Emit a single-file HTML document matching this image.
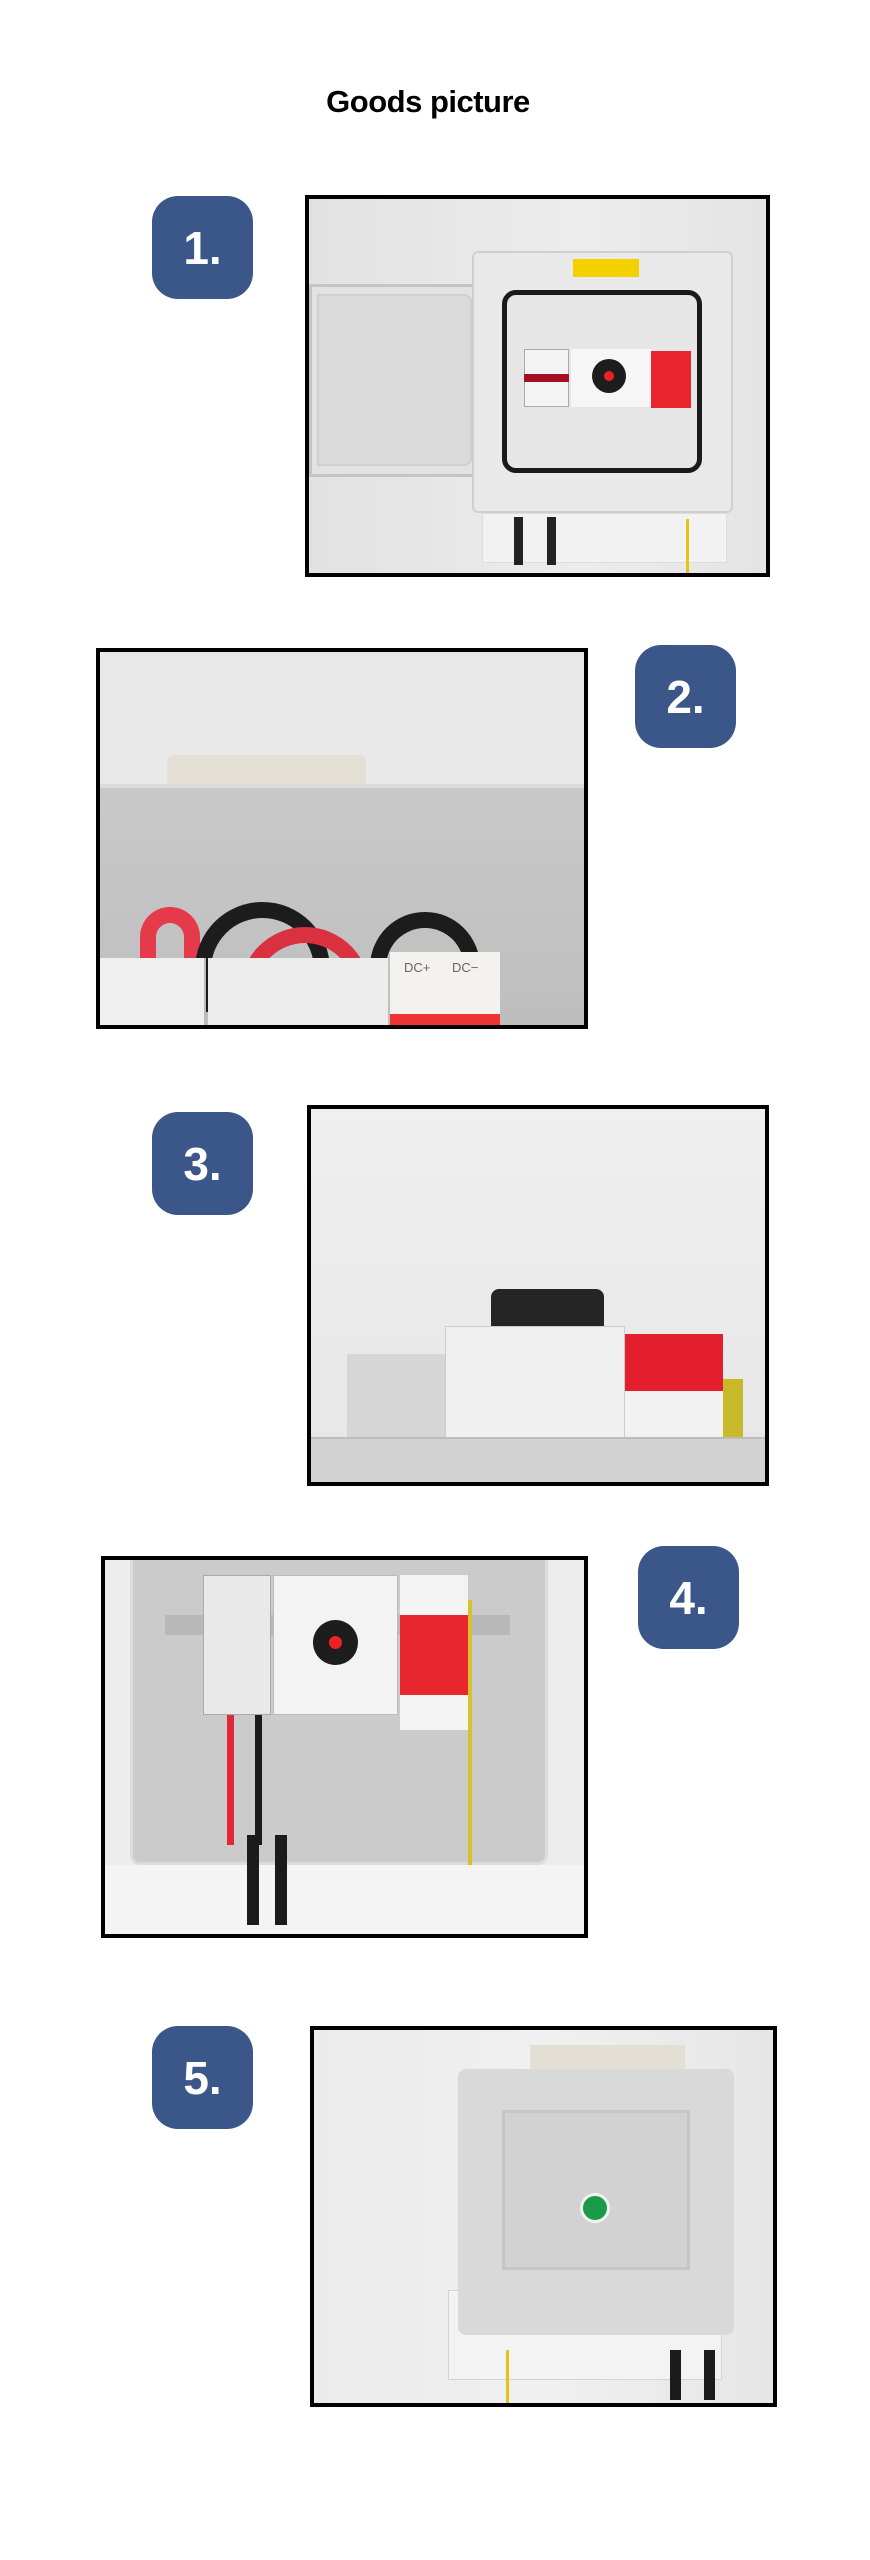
<!DOCTYPE html>
<html><head><meta charset="utf-8"><style>
*{margin:0;padding:0;box-sizing:border-box}
body{width:870px;height:2560px;background:#fff;position:relative;overflow:hidden;font-family:"Liberation Sans",sans-serif}
.t{position:absolute;left:0;width:856px;top:84px;text-align:center;font-weight:bold;font-size:31px;color:#000;letter-spacing:-0.5px}
.b{position:absolute;width:101px;height:103px;background:#3b5688;border-radius:26px;color:#fff;font-weight:bold;font-size:46px;display:flex;align-items:center;justify-content:center}
.f{position:absolute;border:4px solid #000;overflow:hidden;background:#e8e8e8}
.f div,.f span{position:absolute}
</style></head><body>
<div class="t">Goods picture</div>

<div class="b" style="left:152px;top:196px">1.</div>
<div class="f" style="left:305px;top:195px;width:465px;height:382px;background:linear-gradient(90deg,#e2e2e2,#ececec 60%,#e4e4e4)">
  <div style="left:0;top:85px;width:175px;height:193px;background:#e2e2e2;border:3px solid #c4c4c4;border-radius:0 10px 10px 0"></div>
  <div style="left:8px;top:95px;width:155px;height:172px;background:#dadada;border:2px solid #cfcfcf;border-radius:0 8px 8px 0"></div>
  <div style="left:163px;top:52px;width:261px;height:262px;background:#e9e9e9;border:2px solid #cfcfcf;border-radius:6px"></div>
  <div style="left:264px;top:60px;width:66px;height:18px;background:#f5d000"></div>
  <div style="left:193px;top:91px;width:200px;height:183px;border:5px solid #1a1a1a;border-radius:14px;background:#e6e6e6"></div>
  <div style="left:215px;top:150px;width:45px;height:58px;background:#f4f4f4;border:1px solid #aaa"></div>
  <div style="left:215px;top:175px;width:45px;height:8px;background:#a01020"></div>
  <div style="left:262px;top:150px;width:80px;height:58px;background:#f6f6f6"></div>
  <div style="left:283px;top:160px;width:34px;height:34px;background:#1d1d1d;border-radius:50%"></div>
  <div style="left:295px;top:172px;width:10px;height:10px;background:#e22;border-radius:50%"></div>
  <div style="left:342px;top:152px;width:40px;height:57px;background:#e8242c"></div>
  <div style="left:173px;top:314px;width:245px;height:50px;background:#f2f2f2;border:1px solid #ddd"></div>
  <div style="left:205px;top:318px;width:9px;height:48px;background:#222"></div>
  <div style="left:238px;top:318px;width:9px;height:48px;background:#222"></div>
  <div style="left:377px;top:320px;width:3px;height:60px;background:#e6c21a"></div>
</div>

<div class="b" style="left:635px;top:645px">2.</div>
<div class="f" style="left:96px;top:648px;width:492px;height:381px;background:#e9e9e9">
  <div style="left:67px;top:103px;width:199px;height:50px;background:#e4e0d6;border-radius:6px 6px 0 0"></div>
  <div style="left:0;top:132px;width:492px;height:260px;background:linear-gradient(#c9c9c9,#bdbdbd);border-top:4px solid #dcdcdc"></div>
  <div style="left:40px;top:255px;width:60px;height:90px;border:16px solid #e53a4a;border-bottom:none;border-radius:40px 40px 0 0"></div>
  <div style="left:95px;top:250px;width:135px;height:110px;border:16px solid #1c1c1c;border-bottom:none;border-radius:70px 70px 0 0"></div>
  <div style="left:140px;top:275px;width:130px;height:90px;border:16px solid #d9313f;border-bottom:none;border-radius:65px 65px 0 0"></div>
  <div style="left:270px;top:260px;width:110px;height:100px;border:16px solid #1c1c1c;border-bottom:none;border-radius:55px 55px 0 0"></div>
  <div style="left:0;top:306px;width:106px;height:75px;background:#efefef;border-right:2px solid #bbb"></div>
  <div style="left:108px;top:306px;width:180px;height:75px;background:#ededed"></div>
  <div style="left:290px;top:300px;width:110px;height:75px;background:#f4f2ee"></div>
  <div style="left:290px;top:362px;width:110px;height:19px;background:#e33"></div>
  <span style="left:304px;top:308px;font-size:13px;color:#666">DC+</span>
  <span style="left:352px;top:308px;font-size:13px;color:#666">DC−</span>
</div>

<div class="b" style="left:152px;top:1112px">3.</div>
<div class="f" style="left:307px;top:1105px;width:462px;height:381px;background:linear-gradient(#efefef,#e6e6e6)">
  <div style="left:180px;top:180px;width:113px;height:54px;background:#252525;border-radius:8px 8px 0 0"></div>
  <div style="left:36px;top:245px;width:98px;height:95px;background:#d6d6d6"></div>
  <div style="left:134px;top:217px;width:180px;height:122px;background:#f0f0f0;border:1px solid #ccc"></div>
  <div style="left:314px;top:225px;width:98px;height:57px;background:#e41f2d"></div>
  <div style="left:314px;top:282px;width:98px;height:57px;background:#f2f2f2"></div>
  <div style="left:412px;top:270px;width:20px;height:60px;background:#c7b927"></div>
  <div style="left:0;top:328px;width:462px;height:53px;background:#d2d2d2;border-top:2px solid #bcbcbc"></div>
</div>

<div class="b" style="left:638px;top:1546px">4.</div>
<div class="f" style="left:101px;top:1556px;width:487px;height:382px;background:#ededed">
  <div style="left:25px;top:0;width:418px;height:305px;background:#cbcbcb;border:3px solid #dcdcdc;border-top:none;border-radius:0 0 10px 10px"></div>
  <div style="left:60px;top:55px;width:345px;height:20px;background:#b8b8b8"></div>
  <div style="left:98px;top:15px;width:68px;height:140px;background:#e9e9e9;border:1px solid #aaa"></div>
  <div style="left:168px;top:15px;width:125px;height:140px;background:#f3f3f3;border:1px solid #bbb"></div>
  <div style="left:208px;top:60px;width:45px;height:45px;background:#1d1d1d;border-radius:50%"></div>
  <div style="left:224px;top:76px;width:13px;height:13px;background:#e22;border-radius:50%"></div>
  <div style="left:295px;top:15px;width:68px;height:40px;background:#f3f3f3"></div>
  <div style="left:295px;top:55px;width:68px;height:80px;background:#e8262e"></div>
  <div style="left:295px;top:135px;width:68px;height:35px;background:#f3f3f3"></div>
  <div style="left:122px;top:155px;width:7px;height:130px;background:#e0283a"></div>
  <div style="left:150px;top:155px;width:7px;height:130px;background:#1b1b1b"></div>
  <div style="left:363px;top:40px;width:4px;height:340px;background:#d6c22a"></div>
  <div style="left:0;top:305px;width:487px;height:77px;background:#f4f4f4"></div>
  <div style="left:142px;top:275px;width:12px;height:90px;background:#1b1b1b"></div>
  <div style="left:170px;top:275px;width:12px;height:90px;background:#1b1b1b"></div>
</div>

<div class="b" style="left:152px;top:2026px">5.</div>
<div class="f" style="left:310px;top:2026px;width:467px;height:381px;background:linear-gradient(90deg,#ebebeb,#f0f0f0 50%,#e6e6e6)">
  <div style="left:216px;top:15px;width:155px;height:30px;background:#e3dfd5"></div>
  <div style="left:134px;top:260px;width:274px;height:90px;background:#f3f3f3;border:1px solid #d4d4d4"></div>
  <div style="left:144px;top:39px;width:276px;height:266px;background:#d9d9d9;border-radius:8px"></div>
  <div style="left:188px;top:80px;width:188px;height:160px;border:3px solid #c6c6c6;background:#d2d2d2"></div>
  <div style="left:266px;top:163px;width:30px;height:30px;background:#1a9b4a;border:3px solid #f2f2f2;border-radius:50%"></div>
  <div style="left:356px;top:320px;width:11px;height:50px;background:#1b1b1b"></div>
  <div style="left:390px;top:320px;width:11px;height:50px;background:#1b1b1b"></div>
  <div style="left:192px;top:320px;width:3px;height:61px;background:#e6c21a"></div>
</div>
</body></html>
